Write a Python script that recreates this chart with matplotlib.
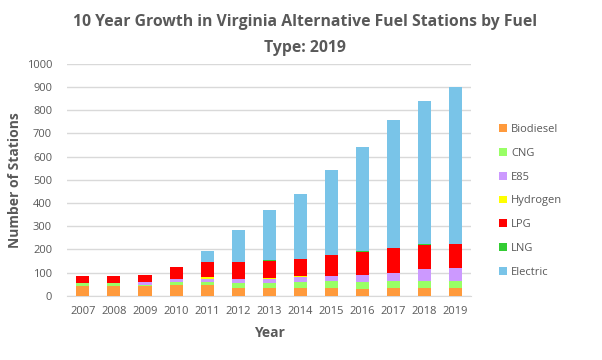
import numpy as np
import matplotlib
matplotlib.use('Agg')
import matplotlib.pyplot as plt
from matplotlib.patches import Patch

plt.rcParams['font.family'] = ['Open Sans', 'DejaVu Sans']

#
# Data
#
years     = ['2007', '2008', '2009', '2010', '2011', '2012', '2013',
             '2014', '2015', '2016', '2017', '2018', '2019']
biodiesel = [41, 41, 41, 45, 49, 36, 35, 35, 35, 31, 35, 35, 35]
cng       = [14, 14,  7, 17, 13, 19, 19, 25, 30, 29, 30, 30, 30]
e85       = [ 2,  2, 10,  9, 13, 20, 19, 21, 22, 31, 35, 50, 54]
hydrogen  = [ 0,  0,  4,  0,  5,  0,  5,  3,  0,  0,  0,  0,  0]
lpg       = [27, 27, 26, 52, 65, 70, 71, 73, 88, 99, 106, 106, 105]
lng       = [ 0,  0,  0,  0,  0,  0,  4,  0,  0,  4,  0,  3,  0]
electric  = [ 0,  0,  0,  0, 48, 138, 219, 283, 366, 448, 551, 614, 676]

names  = ['Biodiesel', 'CNG', 'E85', 'Hydrogen', 'LPG', 'LNG', 'Electric']
series = [biodiesel, cng, e85, hydrogen, lpg, lng, electric]
colors = ['#FF9A3C', '#99FF66', '#CC99FF', '#FFFF00', '#FF0000', '#33CC33', '#79C4E8']

grey = '#595959'

fig = plt.figure(figsize=(6.02, 3.6), dpi=100)
ax = fig.add_axes([0.112, 0.178, 0.670, 0.645])

x = np.arange(len(years))
bottom = np.zeros(len(years))
for vals, c in zip(series, colors):
    vals = np.array(vals, dtype=float)
    ax.bar(x, vals, 0.42, bottom=bottom, color=c, linewidth=0, zorder=3)
    bottom += vals

ax.set_xlim(-0.5, len(years) - 0.5)
ax.set_ylim(0, 1000)
ax.set_yticks(np.arange(0, 1001, 100))
ax.set_xticks(x)
ax.set_xticklabels(years)
ax.yaxis.grid(True, color='#D9D9D9', linewidth=1, zorder=0)
for s in ['top', 'right', 'left']:
    ax.spines[s].set_visible(False)
ax.spines['bottom'].set_color('#D9D9D9')
ax.tick_params(length=0, labelsize=8, colors=grey)
ax.tick_params(axis='y', pad=11)
ax.tick_params(axis='x', pad=7)

ax.set_xlabel('Year', fontsize=10, fontweight='bold', color=grey)
ax.set_ylabel('Number of Stations', fontsize=10, fontweight='bold', color=grey)
ax.xaxis.set_label_coords(0.5, -0.13)
ax.yaxis.set_label_coords(-0.112, 0.5)

fig.text(0.507, 0.962, '10 Year Growth in Virginia Alternative Fuel Stations by Fuel\nType: 2019',
         ha='center', va='top', fontsize=11.3, fontweight='bold', color=grey, linespacing=1.85)

handles = [Patch(facecolor=c, edgecolor='none') for c in colors]
fig.legend(handles, names, loc='center left', bbox_to_anchor=(0.812, 0.442),
           frameon=False, fontsize=8, labelcolor=grey, handlelength=0.7, handleheight=0.7,
           handletextpad=0.4, labelspacing=1.15)

fig.savefig('out.png', dpi=100)
